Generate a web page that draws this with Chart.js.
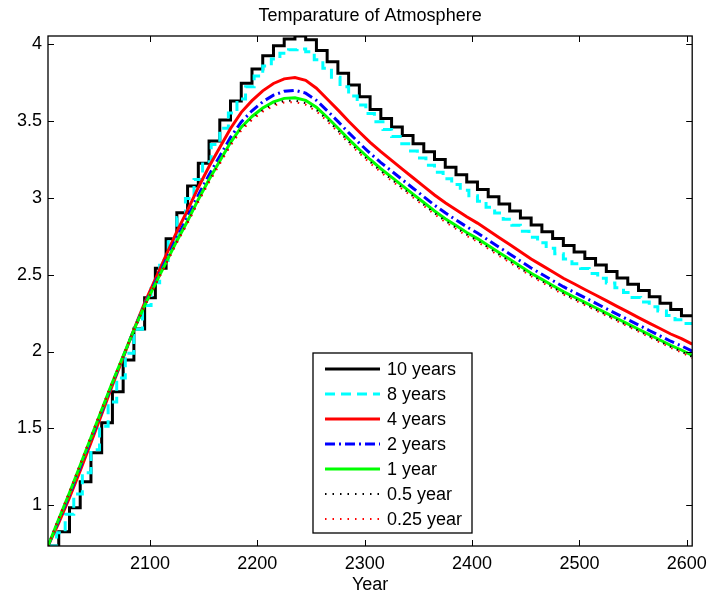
<!DOCTYPE html>
<html>
<head>
<meta charset="utf-8">
<script src="https://cdn.jsdelivr.net/npm/chart.js@4.4.1/dist/chart.umd.min.js"></script>
<style>
  html, body { margin: 0; padding: 0; background: #fff; }
  canvas { display: block; }
</style>
</head>
<body>
<canvas id="tempChart" width="714" height="598"></canvas>
<script>
const range = (start, stop, step) => {
  const out = [];
  for (let v = start; v <= stop; v += step) out.push(v);
  return out;
};

// x positions: decade samples and 8-year steps (last one closes at 2605)
const decadeYears = range(2005, 2605, 10);
const eightYearSteps = [...range(2005, 2597, 8), 2605];

const xTicks = [2100, 2200, 2300, 2400, 2500, 2600];
const yTicks = [1, 1.5, 2, 2.5, 3, 3.5, 4];

// temperature with a 10 year time step (held over each step)
const temp10 = [
  0.734, 0.827, 0.983, 1.152, 1.341, 1.536, 1.738, 1.945, 2.146, 2.35,
  2.542, 2.734, 2.904, 3.077, 3.225, 3.37, 3.507, 3.631, 3.746, 3.839,
  3.926, 3.99, 4.034, 4.054, 4.03, 3.96, 3.887, 3.811, 3.735, 3.659,
  3.575, 3.517, 3.461, 3.406, 3.353, 3.301, 3.25, 3.20, 3.151, 3.103,
  3.055, 3.008, 2.961, 2.915, 2.869, 2.824, 2.779, 2.735, 2.691, 2.648,
  2.605, 2.563, 2.521, 2.479, 2.438, 2.397, 2.356, 2.315, 2.274, 2.233,
  2.233,
];

// 8 year time step
const temp8 = [
  0.734, 0.82, 0.94, 1.072, 1.211, 1.361, 1.514, 1.672, 1.828, 1.988,
  2.145, 2.30, 2.448, 2.592, 2.736, 2.872, 2.996, 3.12, 3.236, 3.348,
  3.454, 3.553, 3.644, 3.724, 3.793, 3.858, 3.905, 3.941, 3.964, 3.969,
  3.951, 3.899, 3.844, 3.786, 3.724, 3.664, 3.605, 3.549, 3.496, 3.446,
  3.399, 3.352, 3.305, 3.259, 3.213, 3.167, 3.125, 3.087, 3.05, 3.014,
  2.979, 2.94, 2.901, 2.861, 2.822, 2.783, 2.744, 2.708, 2.672, 2.637,
  2.602, 2.571, 2.54, 2.508, 2.477, 2.446, 2.415, 2.384, 2.352, 2.322,
  2.292, 2.263, 2.234, 2.207, 2.182, 2.182,
];

// finer steps, sampled every 10 years
const temp4 = [
  0.734, 0.884, 1.048, 1.225, 1.407, 1.592, 1.78, 1.96, 2.143, 2.317,
  2.472, 2.628, 2.781, 2.921, 3.068, 3.204, 3.328, 3.452, 3.557, 3.633,
  3.697, 3.745, 3.775, 3.784, 3.765, 3.714, 3.644, 3.573, 3.499, 3.429,
  3.362, 3.301, 3.244, 3.187, 3.131, 3.075, 3.019, 2.968, 2.923, 2.877,
  2.836, 2.789, 2.742, 2.696, 2.649, 2.602, 2.561, 2.519, 2.477, 2.441,
  2.404, 2.368, 2.331, 2.294, 2.258, 2.221, 2.185, 2.15, 2.114, 2.084,
  2.048,
];

const temp2 = [
  0.734, 0.90, 1.068, 1.247, 1.428, 1.61, 1.793, 1.966, 2.141, 2.306,
  2.452, 2.597, 2.742, 2.876, 3.018, 3.15, 3.272, 3.394, 3.495, 3.567,
  3.626, 3.669, 3.694, 3.70, 3.682, 3.635, 3.568, 3.498, 3.425, 3.356,
  3.291, 3.23, 3.175, 3.119, 3.063, 3.008, 2.953, 2.903, 2.857, 2.812,
  2.772, 2.726, 2.68, 2.635, 2.589, 2.544, 2.503, 2.462, 2.422, 2.386,
  2.351, 2.315, 2.279, 2.244, 2.208, 2.173, 2.137, 2.102, 2.067, 2.037,
  2.002,
];

const temp1 = [
  0.734, 0.91, 1.08, 1.26, 1.44, 1.62, 1.80, 1.97, 2.14, 2.30,
  2.44, 2.58, 2.72, 2.85, 2.99, 3.12, 3.24, 3.36, 3.46, 3.53,
  3.585, 3.625, 3.648, 3.652, 3.635, 3.59, 3.525, 3.455, 3.383, 3.315,
  3.25, 3.19, 3.135, 3.08, 3.025, 2.97, 2.915, 2.865, 2.82, 2.775,
  2.735, 2.69, 2.645, 2.60, 2.555, 2.51, 2.47, 2.43, 2.39, 2.355,
  2.32, 2.285, 2.25, 2.215, 2.18, 2.145, 2.11, 2.075, 2.04, 2.01,
  1.975,
];

const temp05 = [
  0.734, 0.914, 1.084, 1.265, 1.444, 1.624, 1.803, 1.971, 2.14, 2.298,
  2.436, 2.573, 2.712, 2.84, 2.979, 3.109, 3.228, 3.347, 3.447, 3.516,
  3.57, 3.609, 3.631, 3.634, 3.617, 3.573, 3.509, 3.439, 3.367, 3.299,
  3.235, 3.175, 3.12, 3.065, 3.011, 2.956, 2.901, 2.851, 2.806, 2.761,
  2.721, 2.677, 2.632, 2.587, 2.542, 2.497, 2.458, 2.418, 2.378, 2.343,
  2.309, 2.274, 2.239, 2.204, 2.169, 2.135, 2.1, 2.065, 2.03, 2.0,
  1.965,
];

const temp025 = [
  0.734, 0.916, 1.087, 1.267, 1.447, 1.626, 1.804, 1.972, 2.139, 2.297,
  2.433, 2.57, 2.707, 2.835, 2.973, 3.102, 3.221, 3.34, 3.439, 3.508,
  3.561, 3.6, 3.621, 3.624, 3.607, 3.564, 3.50, 3.43, 3.358, 3.291,
  3.226, 3.167, 3.112, 3.057, 3.003, 2.948, 2.893, 2.843, 2.798, 2.753,
  2.714, 2.669, 2.624, 2.58, 2.535, 2.49, 2.451, 2.411, 2.371, 2.337,
  2.302, 2.268, 2.233, 2.198, 2.164, 2.129, 2.094, 2.059, 2.024, 1.994,
  1.959,
];

const seriesDefs = [
  { label: "10 years", years: decadeYears, values: temp10, color: "#000000", width: 3, dash: [], stepped: true },
  { label: "8 years", years: eightYearSteps, values: temp8, color: "#00ffff", width: 3, dash: [10, 6], stepped: true },
  { label: "4 years", years: decadeYears, values: temp4, color: "#ff0000", width: 3, dash: [], stepped: false },
  { label: "2 years", years: decadeYears, values: temp2, color: "#0000ff", width: 3, dash: [10, 4, 2, 4], stepped: false },
  { label: "1 year", years: decadeYears, values: temp1, color: "#00ff00", width: 3, dash: [], stepped: false },
  { label: "0.5 year", years: decadeYears, values: temp05, color: "#000000", width: 2, dash: [1.5, 6], stepped: false },
  { label: "0.25 year", years: decadeYears, values: temp025, color: "#ff0000", width: 2, dash: [1.5, 6], stepped: false },
];

const FONT = "Liberation Sans, Arial, Helvetica, sans-serif";
Chart.defaults.font.family = FONT;
Chart.defaults.font.size = 18;
Chart.defaults.color = "#000";

// box, inward tick marks and title, MATLAB style
const axesFrame = {
  id: "axesFrame",
  afterDatasetsDraw(chart) {
    const { ctx, chartArea: a, scales } = chart;
    const len = 6;
    ctx.save();
    ctx.strokeStyle = "#000";
    ctx.lineWidth = 1;
    ctx.beginPath();
    xTicks.forEach((v) => {
      const px = Math.round(scales.x.getPixelForValue(v)) + 0.5;
      ctx.moveTo(px, a.bottom);
      ctx.lineTo(px, a.bottom - len);
      ctx.moveTo(px, a.top);
      ctx.lineTo(px, a.top + len);
    });
    yTicks.forEach((v) => {
      const py = Math.round(scales.y.getPixelForValue(v)) + 0.5;
      ctx.moveTo(a.left, py);
      ctx.lineTo(a.left + len, py);
      ctx.moveTo(a.right, py);
      ctx.lineTo(a.right - len, py);
    });
    ctx.stroke();
    ctx.lineWidth = 1.3;
    ctx.strokeRect(a.left, a.top, a.right - a.left, a.bottom - a.top);

    ctx.fillStyle = "#000";
    ctx.font = "18px " + FONT;
    ctx.textAlign = "center";
    ctx.textBaseline = "middle";
    ctx.fillText("Temparature of Atmosphere", (a.left + a.right) / 2, 16.5);
    ctx.restore();
  },
};

// boxed legend sitting inside the plot, lower middle
const boxLegend = {
  id: "boxLegend",
  afterDraw(chart) {
    const { ctx, chartArea: a } = chart;
    const left = a.left + 265;
    const top = 353;
    const width = 159;
    const rowH = 25;
    const height = 180;
    ctx.save();
    ctx.fillStyle = "#fff";
    ctx.fillRect(left, top, width, height);
    ctx.strokeStyle = "#000";
    ctx.lineWidth = 1.3;
    ctx.strokeRect(left, top, width, height);

    ctx.font = "18px " + FONT;
    ctx.textAlign = "left";
    ctx.textBaseline = "middle";
    chart.data.datasets.forEach((ds, i) => {
      const y = top + 16 + i * rowH;
      ctx.beginPath();
      ctx.strokeStyle = ds.borderColor;
      ctx.lineWidth = ds.borderWidth;
      ctx.setLineDash(ds.borderDash || []);
      ctx.moveTo(left + 12, y);
      ctx.lineTo(left + 67, y);
      ctx.stroke();
      ctx.setLineDash([]);
      ctx.fillStyle = "#000";
      ctx.fillText(ds.label, left + 74, y + 1);
    });
    ctx.restore();
  },
};

const datasets = seriesDefs.map((s, i) => ({
  label: s.label,
  data: s.years.map((x, j) => ({ x: x, y: s.values[j] })),
  borderColor: s.color,
  borderWidth: s.width,
  borderDash: s.dash,
  stepped: s.stepped,
  tension: 0,
  pointRadius: 0,
  fill: false,
  order: seriesDefs.length - i,
}));

new Chart(document.getElementById("tempChart"), {
  type: "line",
  data: { datasets: datasets },
  options: {
    responsive: false,
    animation: false,
    layout: { padding: { top: 36, right: 18, left: 0, bottom: 0 } },
    plugins: {
      legend: { display: false },
      title: { display: false },
      tooltip: { enabled: false },
    },
    scales: {
      x: {
        type: "linear",
        min: 2005,
        max: 2605,
        afterBuildTicks: (scale) => {
          scale.ticks = xTicks.map((v) => ({ value: v }));
        },
        afterFit: (scale) => {
          scale.height = 52;
        },
        grid: { display: false, drawTicks: false },
        border: { display: false },
        ticks: {
          padding: 7,
          autoSkip: false,
          maxRotation: 0,
          callback: (v) => String(v),
        },
        title: {
          display: true,
          text: "Year",
          padding: { top: 0, bottom: 2 },
        },
      },
      y: {
        type: "linear",
        min: 0.734,
        max: 4.054,
        afterBuildTicks: (scale) => {
          scale.ticks = yTicks.map((v) => ({ value: v }));
        },
        afterFit: (scale) => {
          scale.width = 48;
        },
        grid: { display: false, drawTicks: false },
        border: { display: false },
        ticks: {
          padding: 6,
          autoSkip: false,
          callback: (v) => String(v),
        },
      },
    },
  },
  plugins: [axesFrame, boxLegend],
});
</script>
</body>
</html>
